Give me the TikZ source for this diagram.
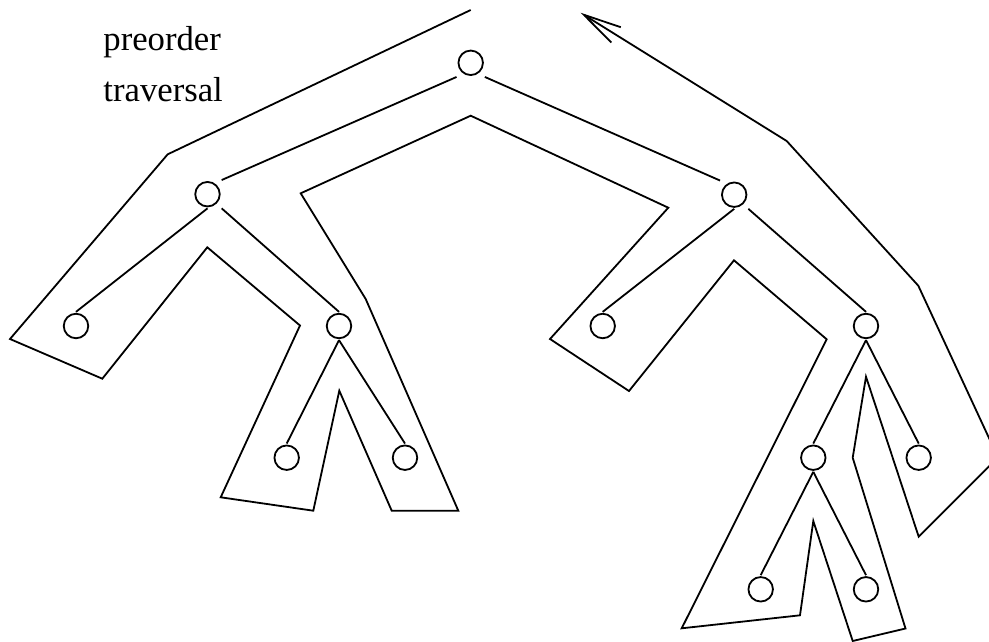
\documentclass[tikz,border=0pt]{standalone}
\usepackage{fontspec}
\setmainfont{Liberation Serif}
\usetikzlibrary{arrows.meta}
\begin{document}
\begin{tikzpicture}[x=1pt,y=-1pt,
  line width=1.8pt,
  vtx/.style={rectangle, inner sep=0pt, minimum size=26.5pt,
    label={[circle, draw, line width=1.8pt, inner sep=0pt, minimum size=24.5pt]center:{}}},
  edge/.style={draw, line width=1.8pt},
  tour/.style={draw, line width=1.8pt, line join=miter},
  lbl/.style={anchor=base west, inner sep=0pt, font=\fontsize{34.7}{40}\selectfont}]
\clip (0,0) rectangle (989,641);
% label
\node[lbl] (t1) at (102.5,50.7) {preorder};
\node[lbl] (t2) at (102.5,101) {traversal};
% tree nodes
\node[vtx] (root) at (470.7,62.8) {};
\node[vtx] (L) at (207.5,194.2) {};
\node[vtx] (R) at (734.2,194.7) {};
\node[vtx] (LL) at (76,326) {};
\node[vtx] (LR) at (339,326) {};
\node[vtx] (LRL) at (286.7,457.7) {};
\node[vtx] (LRR) at (405,457.7) {};
\node[vtx] (RL) at (602.7,326) {};
\node[vtx] (RR) at (866,326) {};
\node[vtx] (RRL) at (813.3,457.7) {};
\node[vtx] (RRR) at (918.7,457.7) {};
\node[vtx] (RRLL) at (760.7,589.3) {};
\node[vtx] (RRLR) at (866,589.3) {};
% tree edges
\path[edge] (root.south west) -- (L.north east);
\path[edge] (root.south east) -- (R.north west);
\path[edge] (L.south) -- (LL.north);
\path[edge] (L.south east) -- (LR.north);
\path[edge] (LR.south) -- (LRL.north);
\path[edge] (LR.south) -- (LRR.north);
\path[edge] (R.south) -- (RL.north);
\path[edge] (R.south east) -- (RR.north);
\path[edge] (RR.south) -- (RRL.north);
\path[edge] (RR.south) -- (RRR.north);
\path[edge] (RRL.south) -- (RRLL.north);
\path[edge] (RRL.south) -- (RRLR.north);
% traversal contour
\path[tour, -{Straight Barb[length=38pt, width=18pt, line width=1.8pt]}]
  (470.7,10) -- (167.7,154.3) -- (10,339) -- (102.3,378.7) -- (207.3,247.3)
  -- (300,325.5) -- (220.7,497.3) -- (313.3,510.7) -- (339.3,390.7)
  -- (391.7,510.7) -- (458.3,510.7) -- (365.7,299) -- (300.7,193.3)
  -- (470.7,115.7) -- (668.3,207.7) -- (550,339) -- (629,391)
  -- (734,260.3) -- (826.7,339.3) -- (681.7,628.3) -- (800,615.3)
  -- (813.3,521) -- (852.7,641) -- (905.5,628.5) -- (852.7,457.7)
  -- (866,376.7) -- (918.7,536.7) -- (998,457.4) -- (918.3,285.7)
  -- (786.7,141) -- (580.5,12.7);
\end{tikzpicture}
\end{document}
